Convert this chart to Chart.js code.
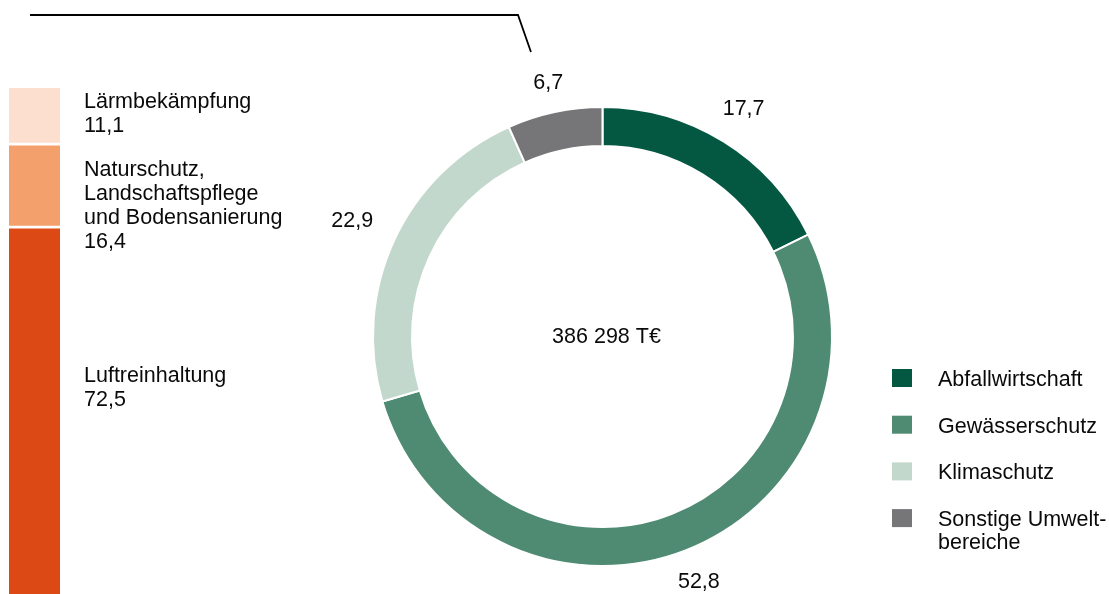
<!DOCTYPE html>
<html lang="de">
<head>
<meta charset="utf-8">
<title>Umweltschutz</title>
<script src="https://cdn.jsdelivr.net/npm/chart.js@4.4.1/dist/chart.umd.min.js"></script>
<style>
  html, body { margin: 0; padding: 0; background: #fff; }
  #wrap { position: relative; width: 1109px; height: 594px; overflow: hidden; }
  canvas { position: absolute; left: 0; top: 0; }
</style>
</head>
<body>
<div id="wrap">
  <canvas id="ringChart" width="1109" height="594"></canvas>
  <canvas id="barChart" width="330" height="594"></canvas>
</div>
<script>
// ring (share of total, %)
const ringCategories = ['Abfallwirtschaft', 'Gewässerschutz', 'Klimaschutz', ['Sonstige Umwelt-', 'bereiche']];
const ringValues = [17.7, 52.8, 22.9, 6.7];
const ringColors = ['#045842', '#4e8b72', '#c3d8cc', '#767678'];
const totalLabel = '386 298 T€';

// breakdown of "Sonstige", stacked from the bottom
const barCategories = [['Luftreinhaltung'], ['Naturschutz,', 'Landschaftspflege', 'und Bodensanierung'], ['Lärmbekämpfung']];
const barValues = [72.5, 16.4, 11.1];
const barColors = ['#dd4915', '#f3a06c', '#fcdfcf'];

const FONT = '21.5px "Liberation Sans", Arial, sans-serif';
const TEXT = '#0a0a0a';
const fmt = v => v.toFixed(1).replace('.', ',');

const ringPlugin = {
  id: 'ringExtras',
  afterDraw(chart) {
    const ctx = chart.ctx;
    const meta = chart.getDatasetMeta(0);
    const first = meta.data[0];
    const cx = first.x, cy = first.y;
    ctx.save();
    ctx.font = FONT;
    ctx.fillStyle = TEXT;

    // total in the middle
    ctx.textAlign = 'center';
    ctx.textBaseline = 'middle';
    ctx.fillText(totalLabel, cx + 4, cy + 1);

    // value labels outside the ring
    meta.data.forEach((arc, i) => {
      const mid = (arc.startAngle + arc.endAngle) / 2;
      const txt = fmt(ringValues[i]);
      const w = ctx.measureText(txt).width;
      const r = arc.outerRadius + 27 + (w / 2) * Math.abs(Math.cos(mid));
      ctx.fillText(txt, cx + r * Math.cos(mid), cy + r * Math.sin(mid));
    });

    // legend
    ctx.textAlign = 'left';
    ctx.textBaseline = 'alphabetic';
    ringCategories.forEach((lab, i) => {
      const yc = 378 + i * 46.7;
      ctx.fillStyle = ringColors[i];
      ctx.fillRect(892, yc - 9, 20, 18);
      ctx.fillStyle = TEXT;
      const lines = Array.isArray(lab) ? lab : [lab];
      lines.forEach((ln, j) => ctx.fillText(ln, 938, yc + 8 + j * 23));
    });

    // connector from the breakdown bar to the "Sonstige" slice
    const target = meta.data[meta.data.length - 1].getCenterPoint();
    const lineY = 15, endY = 52, startX = 30, elbowX = 518;
    const k = (endY - lineY) / (target.y - lineY);
    ctx.strokeStyle = '#000';
    ctx.lineWidth = 1.8;
    ctx.beginPath();
    ctx.moveTo(startX, lineY);
    ctx.lineTo(elbowX, lineY);
    ctx.lineTo(elbowX + (target.x - elbowX) * k, endY);
    ctx.stroke();
    ctx.restore();
  }
};

new Chart(document.getElementById('ringChart'), {
  type: 'doughnut',
  data: {
    labels: ringCategories,
    datasets: [{
      data: ringValues,
      backgroundColor: ringColors,
      borderColor: '#fff',
      borderWidth: 2
    }]
  },
  options: {
    responsive: false,
    animation: false,
    events: [],
    cutout: '83%',
    layout: { padding: { left: 372, right: 276, top: 106, bottom: 27 } },
    plugins: {
      legend: { display: false },
      tooltip: { enabled: false }
    }
  },
  plugins: [ringPlugin]
});

const barPlugin = {
  id: 'barLabels',
  afterDatasetsDraw(chart, args, opts) {
    const ctx = chart.ctx;
    ctx.save();
    ctx.font = FONT;
    ctx.fillStyle = TEXT;
    ctx.textAlign = 'left';
    ctx.textBaseline = 'alphabetic';
    chart.data.datasets.forEach((ds, i) => {
      const el = chart.getDatasetMeta(i).data[0];
      const x = el.x + el.width / 2 + 24;
      const lines = barCategories[i].concat([fmt(barValues[i])]);
      lines.forEach((ln, j) => ctx.fillText(ln, x, el.y + opts.offsets[i] + j * 24));
    });
    ctx.restore();
  }
};

const gap = 1.7;
const barBorders = [{ top: gap }, { top: gap, bottom: gap }, { bottom: gap }];

new Chart(document.getElementById('barChart'), {
  type: 'bar',
  data: {
    labels: [''],
    datasets: barValues.map((v, i) => ({
      label: barCategories[i].join(' '),
      data: [v],
      backgroundColor: barColors[i],
      borderColor: '#fff',
      borderWidth: barBorders[i],
      borderSkipped: false,
      barPercentage: 1,
      categoryPercentage: 1
    }))
  },
  options: {
    responsive: false,
    animation: false,
    events: [],
    layout: { padding: { left: 9, right: 270, top: 88, bottom: 0 } },
    scales: {
      x: { stacked: true, display: false },
      y: { stacked: true, display: false, min: 0, max: 100 }
    },
    plugins: {
      legend: { display: false },
      tooltip: { enabled: false },
      barLabels: { offsets: [155, 32, 20] }
    }
  },
  plugins: [barPlugin]
});
</script>
</body>
</html>
